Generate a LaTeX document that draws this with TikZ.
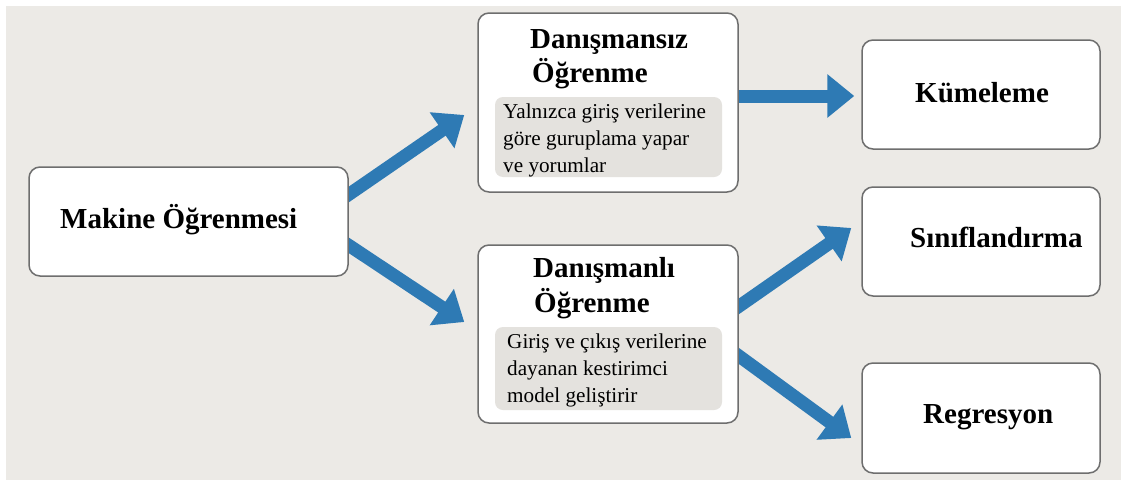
\documentclass[tikz,border=0pt]{standalone}
\usepackage{fontspec}
\setmainfont{Liberation Serif}
\usetikzlibrary{arrows.meta,calc}
\definecolor{bgc}{RGB}{236,234,230}
\definecolor{innerc}{RGB}{228,226,222}
\definecolor{arrc}{RGB}{46,122,180}
\definecolor{bordc}{RGB}{110,110,110}
\pgfdeclarelayer{back}
\pgfsetlayers{back,main}
\tikzset{
  box/.style={draw=bordc, line width=1.5pt, fill=white, rounded corners=11pt, inner sep=0pt},
  innerbox/.style={fill=innerc, rounded corners=8pt, inner sep=0pt},
  head/.style={font=\fontsize{29}{34}\selectfont\bfseries, inner sep=0pt, anchor=base west},
  desc/.style={font=\fontsize{21.2}{27}\selectfont, inner sep=0pt, anchor=base west},
  bigarrow/.style={draw=arrc, line width=13pt, -{Triangle[width=42pt,length=27pt]}, fill=arrc}
}
\begin{document}
\begin{tikzpicture}[x=1pt,y=-1pt]
\useasboundingbox (0,0) rectangle (1121,482);
% boxes
\node[box, minimum width=319pt, minimum height=109pt] (mo) at (188.5,221.5) {};
\node[box, minimum width=260pt, minimum height=179pt] (dsz) at (608,102.5) {};
\node[box, minimum width=260pt, minimum height=178pt] (dsl) at (608,334) {};
\node[box, minimum width=238pt, minimum height=109pt] (kum) at (981,94.5) {};
\node[box, minimum width=238pt, minimum height=109pt] (sin) at (981,241.5) {};
\node[box, minimum width=238pt, minimum height=110pt] (reg) at (981,418) {};
% inner boxes
\node[innerbox, minimum width=227pt, minimum height=80pt] (dszi) at (608.5,137) {};
\node[innerbox, minimum width=227pt, minimum height=83pt] (dsli) at (608.5,368.5) {};
% texts
\node[head] (tmo) at (60,228) {Makine Öğrenmesi};
\node[head] (tkum) at (915,102) {Kümeleme};
\node[head] (tsin) at (910,247) {Sınıflandırma};
\node[head] (treg) at (923,423) {Regresyon};
\node[head] (tdsz1) at (530,48) {Danışmansız};
\node[head] (tdsz2) at (532,82) {Öğrenme};
\node[head] (tdsl1) at (533,277) {Danışmanlı};
\node[head] (tdsl2) at (534,312) {Öğrenme};
\node[desc] (d11) at (503,118) {Yalnızca giriş verilerine};
\node[desc] (d12) at (503,145) {göre guruplama yapar};
\node[desc] (d13) at (503,172) {ve yorumlar};
\node[desc] (d21) at (507,348) {Giriş ve çıkış verilerine};
\node[desc] (d22) at (507,375) {dayanan kestirimci};
\node[desc] (d23) at (507,402) {model geliştirir};
% background and arrows
\begin{pgfonlayer}{back}
\fill[white] (0,0) rectangle (1121,482);
\fill[bgc] (6,6) rectangle (1121,480);
\draw[bigarrow] ($(mo.east)+(-8,-21.5)$) -- ($(dsz.west)+(-13,12.5)$);
\draw[bigarrow] ($(mo.east)+(-8,18.5)$) -- ($(dsl.west)+(-13,-12)$);
\draw[bigarrow] ($(dsz.east)+(-8,-6.5)$) -- ($(kum.west)+(-7,1.5)$);
\draw[bigarrow] ($(dsl.east)+(-8,-22)$) -- ($(sin.west)+(-10,-13.5)$);
\draw[bigarrow] ($(dsl.east)+(-8,16)$) -- ($(reg.west)+(-10,20)$);
\end{pgfonlayer}
\end{tikzpicture}
\end{document}
